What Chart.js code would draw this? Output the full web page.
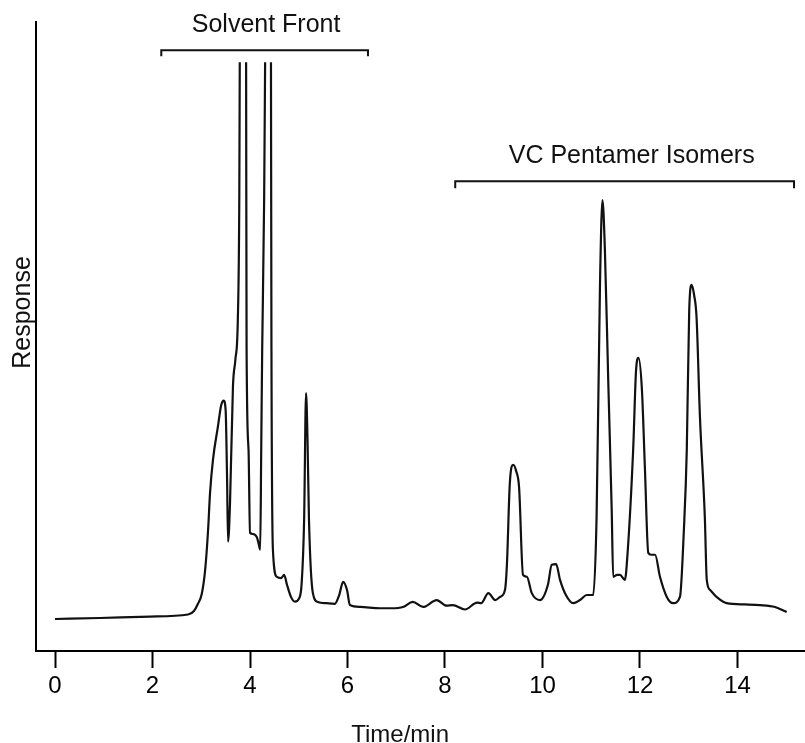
<!DOCTYPE html>
<html>
<head>
<meta charset="utf-8">
<script src="https://cdn.jsdelivr.net/npm/chart.js@4/dist/chart.umd.min.js"></script>
<style>
html,body{margin:0;padding:0;background:#fff;}
canvas{display:block;}
</style>
</head>
<body>
<canvas id="c" width="805" height="743"></canvas>
<script>
// Retention time (min)
const times = [0.00,0.92,1.95,2.73,2.85,2.93,3.01,3.08,3.14,3.18,
3.24,3.34,3.41,3.46,3.50,3.53,3.55,3.59,3.65,3.70,
3.75,3.78,3.79,3.85,3.92,3.93,3.97,4.00,4.06,4.14,
4.17,4.21,4.23,4.25,4.29,4.31,4.37,4.43,4.44,4.47,
4.55,4.64,4.70,4.76,4.84,4.92,5.01,5.06,5.11,5.15,
5.18,5.21,5.29,5.39,5.57,5.74,5.83,5.91,5.99,6.05,
6.26,6.67,6.91,7.14,7.34,7.55,7.83,8.03,8.16,8.41,
8.66,8.74,8.89,9.03,9.13,9.23,9.27,9.33,9.40,9.46,
9.52,9.60,9.68,9.78,9.95,10.11,10.19,10.28,10.36,10.48,
10.63,10.77,10.91,11.04,11.11,11.18,11.23,11.28,11.35,11.42,
11.45,11.53,11.59,11.69,11.75,11.86,11.92,11.97,12.04,12.10,
12.17,12.23,12.31,12.41,12.55,12.68,12.82,12.90,12.96,13.01,
13.06,13.11,13.16,13.23,13.33,13.37,13.44,13.57,13.78,14.15,
14.46,14.77,15.01];
// Detector response (arbitrary units, off-scale tops left open)
const responses = [5.09,5.25,5.48,5.80,6.36,7.47,9.06,12.9,19.2,25.1,
30.4,35.6,39.1,39.8,38.3,27.2,17.4,23.5,42.0,46.3,
52.6,71.7,93.6,null,93.6,47.9,32.0,18.8,18.6,18.1,
17.3,16.1,32.0,47.9,71.7,93.6,null,93.6,47.9,16.1,
11.8,11.6,12.1,10.5,8.6,7.84,8.4,10.8,20.8,41.0,
33.5,20.8,9.2,7.8,7.6,7.5,8.9,11.0,9.7,7.3,
7.0,6.8,6.8,7.0,7.8,7.0,8.1,7.2,7.3,6.6,
7.7,7.6,9.2,8.1,8.6,9.7,13.7,26.7,29.6,28.6,
26.0,12.1,11.8,9.2,8.1,10.5,13.7,13.8,11.3,8.9,
7.6,8.1,8.9,8.9,21.4,58.5,71.7,63.8,42.6,22.4,
11.8,12.1,12.1,11.3,16.1,32.0,44.7,46.6,41.5,29.3,
15.6,15.3,15.3,11.8,8.6,7.6,8.6,19.2,32.0,54.2,
58.2,56.6,53.1,37.2,21.3,11.3,9.7,8.6,7.6,7.4,
7.3,7.0,6.2];
const tickValues = [0,2,4,6,8,10,12,14];
// Bracketed groups
const groupNames = ['Solvent Front','VC Pentamer Isomers'];
const groupStart = [2.18, 8.21];
const groupEnd   = [6.42, 15.16];
const groupLevel = [95.5, 74.7];
const groupLabelAt = [4.33, 11.83];

const xTitle = 'Time/min';
const yTitle = 'Response';

const FONT = '"Liberation Sans", Arial, Helvetica, sans-serif';
const INK = '#111';

const points = times.map((t,i)=>({x:t, y:responses[i]}));

const annot = {
  id:'annot',
  afterDraw(chart){
    const ctx = chart.ctx;
    const xs = chart.scales.x, ys = chart.scales.y;
    ctx.save();
    ctx.strokeStyle = INK;
    ctx.fillStyle = INK;
    ctx.lineWidth = 2;
    for (let i=0;i<groupNames.length;i++){
      const x0 = xs.getPixelForValue(groupStart[i]);
      const x1 = xs.getPixelForValue(groupEnd[i]);
      const y = ys.getPixelForValue(groupLevel[i]);
      const h = i===0 ? 6 : 7;
      ctx.beginPath();
      ctx.moveTo(x0, y+h); ctx.lineTo(x0, y); ctx.lineTo(x1, y); ctx.lineTo(x1, y+h);
      ctx.stroke();
      ctx.font = '25px ' + FONT;
      ctx.textAlign = 'center';
      ctx.textBaseline = 'alphabetic';
      ctx.fillText(groupNames[i], xs.getPixelForValue(groupLabelAt[i]), y - 18);
    }
    // axis titles
    ctx.font = '24px ' + FONT;
    ctx.textAlign = 'center';
    ctx.textBaseline = 'alphabetic';
    ctx.fillText(xTitle, xs.getPixelForValue(7.08), 742);
    ctx.save();
    ctx.translate(30, (ys.top+ys.bottom)/2 - 24);
    ctx.rotate(-Math.PI/2);
    ctx.font = '25px ' + FONT;
    ctx.fillText(yTitle, 0, 0);
    ctx.restore();
    ctx.restore();
  }
};

new Chart(document.getElementById('c'), {
  type:'line',
  data:{ datasets:[{
    data: points,
    borderColor: INK,
    borderWidth: 2.2,
    pointRadius: 0,
    fill: false,
    spanGaps: false,
    cubicInterpolationMode: 'monotone'
  }]},
  options:{
    responsive:false,
    animation:false,
    devicePixelRatio:1,
    layout:{padding:{left:0,right:0,top:22,bottom:0}},
    plugins:{legend:{display:false}, tooltip:{enabled:false}},
    scales:{
      x:{
        type:'linear',
        min:-0.39, max:15.385,
        afterBuildTicks(scale){ scale.ticks = tickValues.map(v=>({value:v})); },
        afterFit(scale){ scale.height = 92; },
        ticks:{ color:'#000', font:{size:24, family:FONT}, padding:4, maxRotation:0, autoSkip:false },
        grid:{ drawOnChartArea:false, drawTicks:true, tickLength:17, tickWidth:2, tickColor:'#000' },
        border:{ display:true, color:'#000', width:2 }
      },
      y:{
        min:0, max:100,
        afterFit(scale){ scale.width = 36; },
        ticks:{ display:false },
        grid:{ display:false },
        border:{ display:true, color:'#000', width:2 }
      }
    }
  },
  plugins:[annot]
});
</script>
</body>
</html>
